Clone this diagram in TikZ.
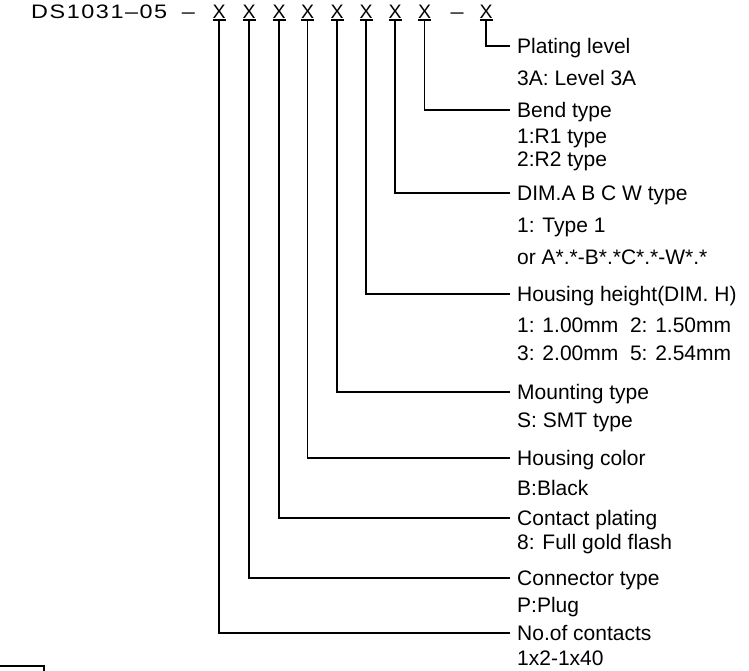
\documentclass[tikz,border=0pt]{standalone}
\usepackage{fontspec}
\setmainfont{Liberation Sans}
\newfontfamily\cadfont[FakeStretch=1.2,LetterSpace=8]{Liberation Sans}
\begin{document}
\begin{tikzpicture}[x=1pt,y=-1pt,
  lbl/.style={anchor=base west,inner sep=0pt,font=\fontsize{21}{24}\selectfont},
  code/.style={anchor=base,inner sep=0pt,font=\fontsize{19.5}{22}\selectfont},
  lead/.style={line width=1.3pt},
]
\useasboundingbox (0,0) rectangle (749,670);

% part number
\node[code,anchor=base west] (pn) at (31,18) {\cadfont DS1031–05};
\node[code] (d1) at (188.5,18) {\cadfont –};
\foreach \i/\x in {1/219,2/249,3/279,4/307.5,5/337,6/366,7/395,8/424.5,9/486}
  \node[code] (x\i) at (\x,18) {X};
\node[code] (d2) at (457,18) {\cadfont –};

% labels (baseline = cap centre + 7.5)
\node[lbl] (t9) at (517,53.5) {Plating level};
\node[lbl] (s9a) at (517,85.5) {3A: Level 3A};

\node[lbl] (t8) at (517,117.5) {Bend type};
\node[lbl] (s8a) at (517,143.5) {1:R1 type};
\node[lbl] (s8b) at (517,166.5) {2:R2 type};

\node[lbl] (t7) at (517,200.5) {DIM.A B C W type};
\node[lbl] (s7a) at (517,232.5) {1: Type 1};
\node[lbl] (s7b) at (517,264.5) {or A*.*-B*.*C*.*-W*.*};

\node[lbl] (t6) at (517,301.5) {Housing height(DIM. H)};
\node[lbl] (s6a) at (517,332.5) {1: 1.00mm\ \ 2: 1.50mm};
\node[lbl] (s6b) at (517,360.5) {3: 2.00mm\ \ 5: 2.54mm};

\node[lbl] (t5) at (517,399.5) {Mounting type};
\node[lbl] (s5a) at (517,427.5) {S: SMT type};

\node[lbl] (t4) at (517,465.5) {Housing color};
\node[lbl] (s4a) at (517,495.5) {B:Black};

\node[lbl] (t3) at (517,525.5) {Contact plating};
\node[lbl] (s3a) at (517,549.5) {8: Full gold flash};

\node[lbl] (t2) at (517,585.5) {Connector type};
\node[lbl] (s2a) at (517,612.5) {P:Plug};

\node[lbl] (t1) at (517,640.5) {No.of contacts};
\node[lbl] (s1a) at (517,665.5) {1x2-1x40};

% underlines and leaders
\foreach \i in {1,...,9}{
  \draw[lead] ([xshift=-6.5pt,yshift=-2pt]x\i.base) -- ([xshift=6.5pt,yshift=-2pt]x\i.base);
  \draw[lead] ([yshift=-2pt]x\i.base) |- ([xshift=-7pt,yshift=7.5pt]t\i.base west);
}

% partial frame at lower left
\draw[line width=1.3pt] (0,666) -- (44,666) -- (44,671);
\end{tikzpicture}
\end{document}
